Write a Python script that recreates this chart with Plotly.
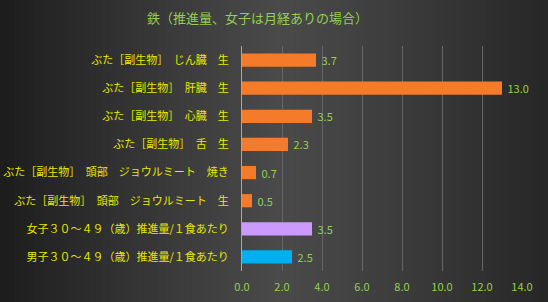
import plotly.graph_objects as go

categories = [
    "ぶた［副生物］　じん臓　生",
    "ぶた［副生物］　肝臓　生",
    "ぶた［副生物］　心臓　生",
    "ぶた［副生物］　舌　生",
    "ぶた［副生物］　頭部　ジョウルミート　焼き",
    "ぶた［副生物］　頭部　ジョウルミート　生",
    "女子３０～４９（歳）推進量/１食あたり",
    "男子３０～４９（歳）推進量/１食あたり",
]
values = [3.7, 13.0, 3.5, 2.3, 0.7, 0.5, 3.5, 2.5]
bar_colors = ["#F47B2A"] * 6 + ["#CC99FF", "#00B0F0"]
tick_vals = [0, 2, 4, 6, 8, 10, 12, 14]
tick_text = ["0.0", "2.0", "4.0", "6.0", "8.0", "10.0", "12.0", "14.0"]

W, H = 548, 302
ML, MR, MT, MB = 242, 26, 46, 31
PW, PH = W - ML - MR, H - MT - MB

fig = go.Figure()
fig.add_trace(go.Bar(
    y=categories, x=values, orientation="h",
    marker=dict(color=bar_colors, line=dict(width=0)),
    text=[f" {v:.1f}" for v in values], textposition="outside",
    constraintext="none",
    textfont=dict(color="#92D050", size=11, family="Noto Sans CJK JP"),
    cliponaxis=False,
))

# background gradient (horizontal, dark edges, light centre)
shapes = []
n = 80
x_start = -ML / PW
x_end = 1 + MR / PW
y_start = -MB / PH
y_end = 1 + MT / PH
def lerp(a, b, t):
    return int(round(a + (b - a) * t))
for i in range(n):
    t = (i + 0.5) / n
    peak = 0.5
    if t < peak:
        v = lerp(0x1c, 0x4a, (t / peak) ** 0.9)
    else:
        v = lerp(0x4a, 0x26, ((t - peak) / (1 - peak)) ** 1.2)
    col = f"rgb({v},{v},{v})"
    x0 = x_start + (x_end - x_start) * i / n
    x1 = x_start + (x_end - x_start) * (i + 1) / n + 0.003
    shapes.append(dict(type="rect", xref="paper", yref="paper", layer="below",
                       x0=x0, x1=x1, y0=y_start, y1=y_end,
                       fillcolor=col, line=dict(width=0)))

fig.update_layout(
    width=W, height=H,
    margin=dict(l=ML, r=MR, t=MT, b=MB, autoexpand=False),
    paper_bgcolor="#333333", plot_bgcolor="rgba(0,0,0,0)",
    shapes=shapes,
    title=dict(text="鉄（推進量、女子は月経ありの場合）", x=0.47, xanchor="center", y=0.94, yanchor="middle",
               font=dict(color="#92D050", size=13, family="Noto Sans CJK JP")),
    bargap=0.53,
    showlegend=False,
    xaxis=dict(range=[0, 14], tickvals=tick_vals, ticktext=tick_text, automargin=False,
               showgrid=True, gridcolor="#666666", gridwidth=1, zeroline=False,
               tickfont=dict(color="#92D050", size=11, family="Noto Sans CJK JP"),
               showline=False, fixedrange=True, ticklabelstandoff=8),
    yaxis=dict(autorange="reversed", showgrid=False, showline=True, linecolor="#A6A6A6", linewidth=1,
               automargin=False,
               tickfont=dict(color="#E8E800", size=11, family="Noto Sans CJK JP"),
               ticks="", ticklabelstandoff=10),
)
fig.write_html("out.html")
